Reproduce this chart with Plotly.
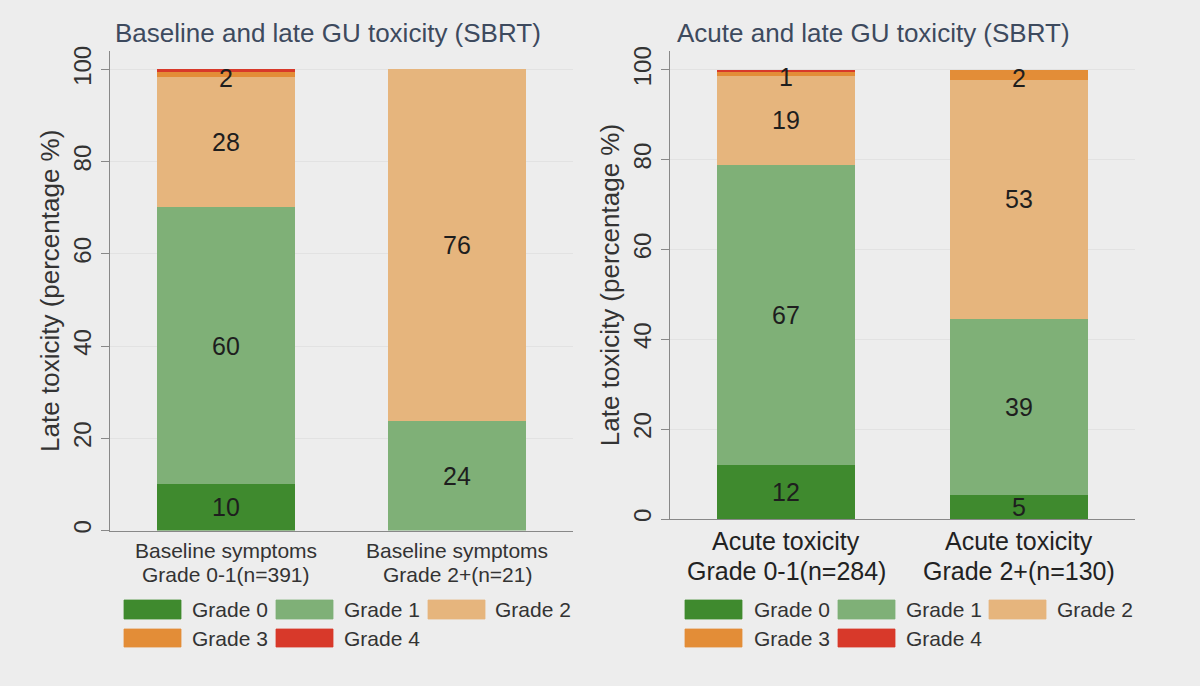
import plotly.graph_objects as go

# ---------------- data ----------------
grades = ["Grade 0", "Grade 1", "Grade 2", "Grade 3", "Grade 4"]
colors = ["#3f8a2e", "#7fb077", "#e6b57d", "#e38d37", "#d8392a"]

left_title = "Baseline and late GU toxicity (SBRT)"
left_categories = ["Baseline symptoms<br>Grade 0-1(n=391)", "Baseline symptoms<br>Grade 2+(n=21)"]
left_values = {
    "Grade 0": [10.0, 0.0],
    "Grade 1": [60.2, 23.7],
    "Grade 2": [28.1, 76.3],
    "Grade 3": [1.2, 0.0],
    "Grade 4": [0.5, 0.0],
}
left_labels = {
    "Grade 0": ["10", ""],
    "Grade 1": ["60", "24"],
    "Grade 2": ["28", "76"],
    "Grade 3": ["2", ""],
    "Grade 4": ["", ""],
}

right_title = "Acute and late GU toxicity (SBRT)"
right_categories = ["Acute toxicity<br>Grade 0-1(n=284)", "Acute toxicity<br>Grade 2+(n=130)"]
right_values = {
    "Grade 0": [12.0, 5.3],
    "Grade 1": [66.8, 39.2],
    "Grade 2": [19.9, 53.3],
    "Grade 3": [0.8, 2.2],
    "Grade 4": [0.5, 0.0],
}
right_labels = {
    "Grade 0": ["12", "5"],
    "Grade 1": ["67", "39"],
    "Grade 2": ["19", "53"],
    "Grade 3": ["1", "2"],
    "Grade 4": ["", ""],
}

y_ticks = [0, 20, 40, 60, 80, 100]
y_title = "Late toxicity (percentage %)"

# ---------------- figure ----------------
W, H = 1200, 686
BG = "#ededed"
FONT = "Liberation Sans, Arial, sans-serif"
fig = go.Figure()


def add_panel(values, labels, cats, xa, ya, cat_size, cat_color, line_y):
    base = [0.0] * len(cats)
    for g, c in zip(grades, colors):
        vals = values[g]
        fig.add_trace(go.Bar(
            x=cats, y=vals, base=base, name=g, marker=dict(color=c, line=dict(width=0)),
            xaxis=xa, yaxis=ya, showlegend=False, hoverinfo="skip"))
        for cat, b, v, t in zip(cats, base, vals, labels[g]):
            if t:
                fig.add_annotation(x=cat, y=b + v / 2, text=t, showarrow=False,
                                   xref=xa, yref=ya, yshift=-3 if v < 5 else 0,
                                   font=dict(size=25, color="#1e1e1e", family=FONT))
        base = [b + v for b, v in zip(base, vals)]
    # category labels (two tight lines)
    for cat in cats:
        for line, py in zip(cat.split("<br>"), line_y):
            fig.add_annotation(x=cat, y=1 - py / H, xref=xa, yref="paper", text=line,
                               showarrow=False, yanchor="middle",
                               font=dict(size=cat_size, color=cat_color, family=FONT))


add_panel(left_values, left_labels, left_categories, "x", "y", 21, "#333333", (550, 574))
add_panel(right_values, right_labels, right_categories, "x2", "y2", 25, "#222222", (541, 571))

axis_common = dict(showline=True, linecolor="#888888", linewidth=1.3, automargin=False)
yaxis_common = dict(tickvals=y_ticks, tickangle=-90, ticks="outside", ticklen=8, tickcolor="#888888",
                    tickfont=dict(size=24, color="#333333"), showgrid=True, gridcolor="#e2e2e2",
                    zeroline=False,
                    title=dict(text=y_title, font=dict(size=26, color="#333333"), standoff=2))
fig.update_layout(
    width=W, height=H, margin=dict(l=0, r=0, t=0, b=0),
    paper_bgcolor=BG, plot_bgcolor=BG, barmode="stack", bargap=0.405,
    font=dict(family=FONT, color="#333333"),
    xaxis=dict(domain=[110 / W, 573 / W], anchor="y", range=[-0.5, 1.5], ticks="",
               showticklabels=False, **axis_common),
    yaxis=dict(domain=[1 - 530.5 / H, 1 - 51 / H], anchor="x", range=[0, 104.0],
               **yaxis_common, **axis_common),
    xaxis2=dict(domain=[670 / W, 1135 / W], anchor="y2", range=[-0.5, 1.5], ticks="",
                showticklabels=False, **axis_common),
    yaxis2=dict(domain=[1 - 519 / H, 1 - 51 / H], anchor="x2", range=[0, 104.2],
                **yaxis_common, **axis_common),
)

# titles
for txt, px in [(left_title, 113), (right_title, 675)]:
    fig.add_annotation(x=px / W, y=1 - 33 / H, xref="paper", yref="paper", text=txt,
                       showarrow=False, xanchor="left", yanchor="middle",
                       font=dict(size=26, color="#3d4a5e", family=FONT))

# manual legends
def add_legend(sw_x, txt_x):
    rows = [(600, 619), (629, 647)]
    for i, (g, c) in enumerate(zip(grades, colors)):
        r, col = divmod(i, 3)
        y0, y1 = rows[r]
        x0 = sw_x[col]
        fig.add_shape(type="rect", xref="paper", yref="paper",
                      x0=x0 / W, x1=(x0 + 57) / W, y0=1 - y1 / H, y1=1 - y0 / H,
                      fillcolor=c, line=dict(width=0.8, color=c), layer="above")
        fig.add_annotation(x=txt_x[col] / W, y=1 - (y0 + y1) / 2 / H, xref="paper", yref="paper",
                           text=g, showarrow=False, xanchor="left", yanchor="middle",
                           font=dict(size=21, color="#333333", family=FONT))


add_legend([124, 276, 428], [190, 342, 493])
add_legend([685, 838, 989], [752, 904, 1055])

fig.write_html("out.html")
